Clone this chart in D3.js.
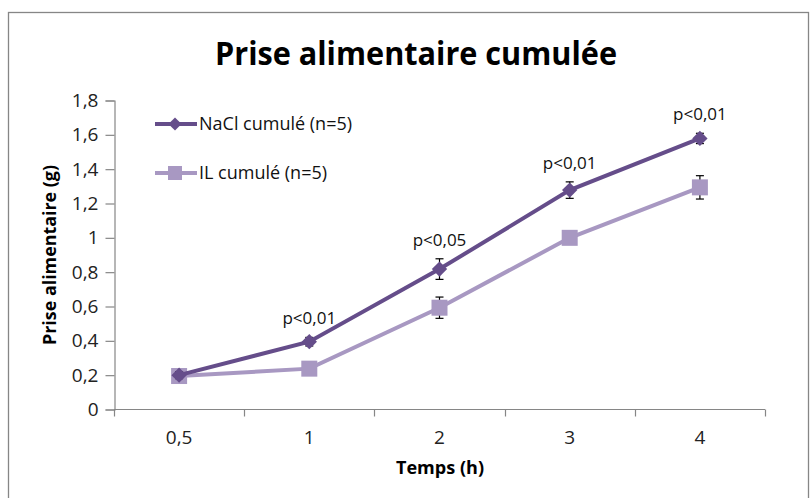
<!DOCTYPE html>
<html>
<head>
<meta charset="utf-8">
<script src="https://cdn.jsdelivr.net/npm/d3@7"></script>
<style>
  html, body { margin: 0; padding: 0; background: #fff; }
  svg { display: block; font-family: "Open Sans", "Noto Sans", sans-serif; }
</style>
</head>
<body>
<svg id="chart" width="810" height="498"></svg>
<script>
// Time points (h) and cumulative food intake (g)
const categories = ["0,5", "1", "2", "3", "4"];
const naclValues = [0.20, 0.395, 0.818, 1.278, 1.579];
const naclErrors = [0.02, 0.025, 0.06, 0.048, 0.03];
const ilValues = [0.195, 0.238, 0.593, 1.0, 1.294];
const ilErrors = [0.015, 0.02, 0.062, 0.02, 0.068];
const pLabels = ["", "p<0,01", "p<0,05", "p<0,01", "p<0,01"];
const yTicks = [0, 0.2, 0.4, 0.6, 0.8, 1.0, 1.2, 1.4, 1.6, 1.8];

const svg = d3.select("#chart");

const plot = { left: 114, right: 765, top: 100.5, bottom: 409.5 };

const x = d3.scaleBand().domain(categories).range([plot.left, plot.right]);
const y = d3.scaleLinear().domain([0, 1.8]).range([plot.bottom, plot.top]);
const cx = c => x(c) + x.bandwidth() / 2;

const axisColor = "#868686";
const darkColor = "#654d8a";
const lightColor = "#a898c2";
const fmt = v => (v === 0 || v === 1) ? d3.format("d")(v) : d3.format(".1f")(v).replace(".", ",");

// Outer chart frame
svg.append("rect")
  .attr("x", 8.5).attr("y", 12.5)
  .attr("width", 800).attr("height", 500)
  .attr("fill", "none").attr("stroke", axisColor).attr("stroke-width", 1.3);

// Title
svg.append("text")
  .attr("x", 416).attr("y", 65)
  .attr("text-anchor", "middle")
  .attr("font-size", 32).attr("font-weight", "bold")
  .attr("textLength", 402).attr("lengthAdjust", "spacingAndGlyphs")
  .text("Prise alimentaire cumulée");

// Y axis
const yAxis = svg.append("g")
  .attr("transform", `translate(${plot.left + 0.5},0)`)
  .call(d3.axisLeft(y).tickValues(yTicks).tickSize(9).tickPadding(7).tickFormat(fmt));
yAxis.select(".domain").attr("stroke", axisColor).attr("stroke-width", 1.2);
yAxis.selectAll(".tick line").attr("stroke", axisColor).attr("stroke-width", 1.2);
yAxis.selectAll(".tick text").attr("font-size", 19).attr("fill", "#222").attr("font-family", "Open Sans");

// X axis with ticks at band boundaries
const xAxisG = svg.append("g").attr("transform", `translate(0,${plot.bottom})`);
xAxisG.append("line")
  .attr("x1", plot.left).attr("x2", plot.right)
  .attr("stroke", axisColor).attr("stroke-width", 1.2);
const boundaries = categories.map(c => x(c)).concat([x(categories[categories.length - 1]) + x.bandwidth()]);
xAxisG.selectAll(".xt").data(boundaries).join("line")
  .attr("x1", d => Math.round(d) + 0.5).attr("x2", d => Math.round(d) + 0.5)
  .attr("y1", 0).attr("y2", 7)
  .attr("stroke", axisColor).attr("stroke-width", 1.2);
xAxisG.selectAll(".xl").data(categories).join("text")
  .attr("x", d => cx(d)).attr("y", 34)
  .attr("text-anchor", "middle")
  .attr("font-size", 19).attr("fill", "#222")
  .text(d => d);

// Axis titles
svg.append("text")
  .attr("transform", `translate(56,255) rotate(-90)`)
  .attr("text-anchor", "middle")
  .attr("font-size", 17).attr("font-weight", "bold")
  .attr("textLength", 180).attr("lengthAdjust", "spacingAndGlyphs")
  .text("Prise alimentaire (g)");
svg.append("text")
  .attr("x", 440).attr("y", 474)
  .attr("text-anchor", "middle")
  .attr("font-size", 17).attr("font-weight", "bold")
  .attr("textLength", 88).attr("lengthAdjust", "spacingAndGlyphs")
  .text("Temps (h)");

const line = d3.line().x((d, i) => cx(categories[i])).y(d => y(d));

function errorBars(values, errors) {
  const g = svg.append("g").attr("stroke", "#000").attr("stroke-width", 1.2);
  values.forEach((v, i) => {
    const px = cx(categories[i]);
    const top = y(v + errors[i]), bot = y(v - errors[i]);
    g.append("line").attr("x1", px).attr("x2", px).attr("y1", top).attr("y2", bot);
    g.append("line").attr("x1", px - 4).attr("x2", px + 4).attr("y1", top).attr("y2", top);
    g.append("line").attr("x1", px - 4).attr("x2", px + 4).attr("y1", bot).attr("y2", bot);
  });
}

// IL series (light)
errorBars(ilValues, ilErrors);
svg.append("path").datum(ilValues)
  .attr("d", line).attr("fill", "none")
  .attr("stroke", lightColor).attr("stroke-width", 4);
svg.selectAll(".ilm").data(ilValues).join("rect")
  .attr("x", (d, i) => cx(categories[i]) - 8).attr("y", d => y(d) - 8)
  .attr("width", 16).attr("height", 16)
  .attr("fill", lightColor);

// NaCl series (dark)
errorBars(naclValues, naclErrors);
svg.append("path").datum(naclValues)
  .attr("d", line).attr("fill", "none")
  .attr("stroke", darkColor).attr("stroke-width", 4);
const diamond = d3.symbol().type(d3.symbolDiamond2).size(150);
svg.selectAll(".nm").data(naclValues).join("path")
  .attr("d", diamond)
  .attr("transform", (d, i) => `translate(${cx(categories[i])},${y(d)})`)
  .attr("fill", darkColor);

// Significance labels above the NaCl points
svg.selectAll(".pl").data(pLabels).join("text")
  .attr("x", (d, i) => cx(categories[i]))
  .attr("y", (d, i) => y(naclValues[i] + naclErrors[i]) - 13)
  .attr("text-anchor", "middle")
  .attr("font-size", 17).attr("fill", "#111")
  .text(d => d);

// Legend
const legend = [
  { label: "NaCl cumulé (n=5)", color: darkColor, shape: "diamond", yy: 124 },
  { label: "IL cumulé (n=5)", color: lightColor, shape: "square", yy: 173 }
];
legend.forEach(l => {
  svg.append("line")
    .attr("x1", 155).attr("x2", 197).attr("y1", l.yy).attr("y2", l.yy)
    .attr("stroke", l.color).attr("stroke-width", 4);
  if (l.shape === "diamond") {
    svg.append("path").attr("d", d3.symbol().type(d3.symbolDiamond2).size(110))
      .attr("transform", `translate(175,${l.yy})`)
      .attr("fill", l.color);
  } else {
    svg.append("rect").attr("x", 168).attr("y", l.yy - 7)
      .attr("width", 14).attr("height", 14).attr("fill", l.color);
  }
  svg.append("text")
    .attr("x", 199).attr("y", l.yy + 6)
    .attr("font-size", 18).attr("fill", "#111")
    .text(l.label);
});
</script>
</body>
</html>
